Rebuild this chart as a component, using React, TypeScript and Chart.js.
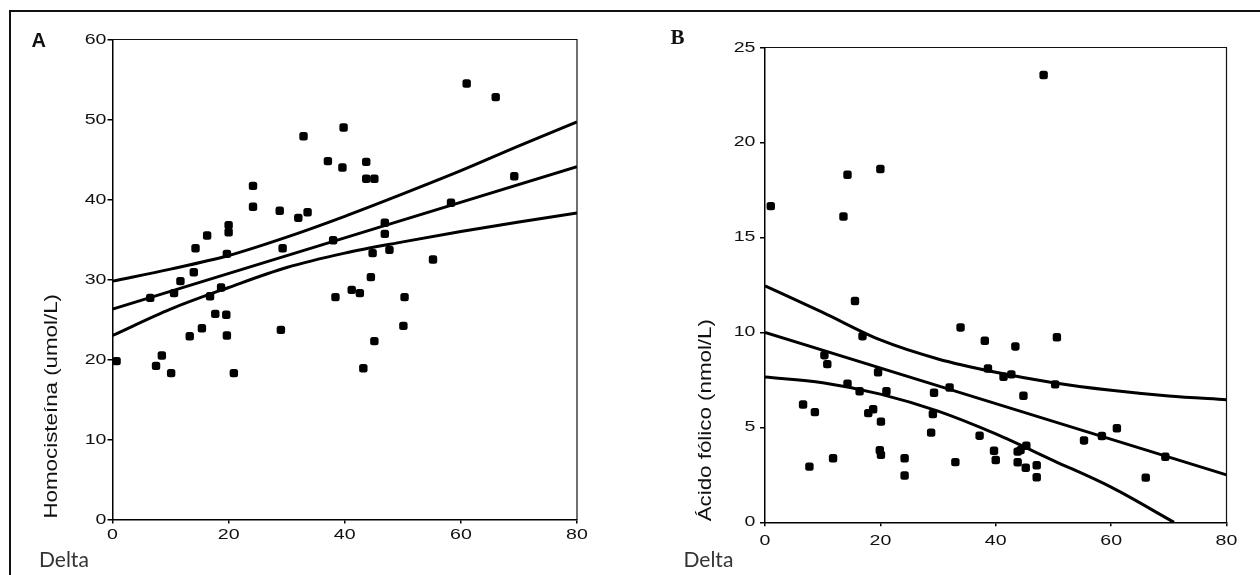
import React, { useEffect, useRef } from 'react';
import { Chart, registerables } from 'chart.js';

Chart.register(...registerables);

// ---------------- data ----------------
const deltaA = [0.7, 7.5, 8.5, 10.1, 13.3, 15.4, 17.7, 19.6, 19.7, 20.9, 29.0, 6.5, 10.6, 11.7, 16.8, 18.7, 32.9, 24.2, 24.2, 28.8, 32.0, 33.6, 16.3, 20.0, 20.0, 14.3, 19.7, 29.3, 14.0, 39.8, 61.0, 66.0, 37.1, 39.6, 43.7, 43.7, 45.1, 69.2, 58.3, 38.0, 46.9, 46.9, 44.8, 47.7, 55.2, 44.5, 38.4, 41.2, 42.6, 50.3, 50.1, 45.1, 43.2];
const homocisteinaA = [19.8, 19.2, 20.5, 18.3, 22.9, 23.9, 25.7, 25.6, 23.0, 18.3, 23.7, 27.7, 28.3, 29.8, 27.9, 29.0, 47.9, 41.7, 39.1, 38.6, 37.7, 38.4, 35.5, 36.8, 35.9, 33.9, 33.2, 33.9, 30.9, 49.0, 54.5, 52.8, 44.8, 44.0, 44.7, 42.6, 42.6, 42.9, 39.6, 34.9, 37.1, 35.7, 33.3, 33.7, 32.5, 30.3, 27.8, 28.7, 28.3, 27.8, 24.2, 22.3, 18.9];
const fitXA = [0, 80];
const fitA = [26.3, 44.1];
const bandXA = [0, 10, 20, 30, 40, 50, 60, 70, 80];
const upperA = [29.8, 31.3, 33.0, 35.3, 37.9, 40.7, 43.6, 46.7, 49.7];
const lowerA = [23.0, 26.3, 29.0, 31.5, 33.3, 34.7, 36.0, 37.2, 38.3];

const deltaB = [1.0, 14.3, 20.0, 13.6, 48.3, 15.6, 16.9, 10.3, 10.8, 19.6, 14.3, 16.4, 21.05, 6.6, 8.65, 17.9, 18.75, 20.1, 19.9, 20.1, 7.7, 11.8, 24.2, 24.2, 29.3, 29.1, 28.8, 32.0, 33.9, 38.1, 43.4, 50.6, 38.65, 41.35, 42.7, 50.3, 44.8, 33.0, 37.2, 39.7, 40.0, 43.8, 43.8, 45.3, 44.3, 45.2, 47.1, 47.1, 55.3, 58.4, 61.0, 69.4, 66.0];
const acidoFolicoB = [16.65, 18.3, 18.6, 16.1, 23.55, 11.65, 9.8, 8.8, 8.33, 7.9, 7.3, 6.9, 6.9, 6.2, 5.8, 5.75, 5.95, 5.3, 3.8, 3.55, 2.93, 3.37, 3.37, 2.46, 6.82, 5.7, 4.72, 7.1, 10.26, 9.56, 9.26, 9.74, 8.1, 7.66, 7.79, 7.26, 6.66, 3.17, 4.56, 3.77, 3.28, 3.72, 3.16, 4.03, 3.8, 2.87, 3.0, 2.37, 4.31, 4.54, 4.95, 3.45, 2.35];
const fitXB = [0, 80];
const fitB = [10.0, 2.5];
const upperXB = [0, 10, 20, 30, 40, 50, 60, 70, 80];
const upperB = [12.45, 11.05, 9.6, 8.6, 7.9, 7.35, 6.95, 6.65, 6.45];
const lowerXB = [0, 10, 20, 30, 40, 50, 60, 70.9];
const lowerB = [7.65, 7.35, 6.75, 5.85, 4.65, 3.25, 1.85, 0];

const xTicks = [0, 20, 40, 60, 80];
const yTicksA = [0, 10, 20, 30, 40, 50, 60];
const yTicksB = [0, 5, 10, 15, 20, 25];

const titleA = 'Homocisteína (umol/L)';
const titleB = 'Ácido fólico (nmol/L)';
const xLabel = 'Delta';

// ---------------- styling ----------------
const SANS = "'Liberation Sans', Arial, Helvetica, sans-serif";
const TICK_STRETCH = 1.35;
const TITLE_STRETCH = 1.24;
const CANVAS_W = 630;
const CANVAS_H = 575;
const X_AXIS_H = 30;

const pts = (xs: number[], ys: number[]) => xs.map((x, i) => ({ x, y: ys[i] }));

function patchScale(scale: any) {
  if (scale.__patched) return;
  scale.__patched = true;
  scale.drawLabels = function (chartArea: any) {
    const opts = this.options;
    if (!opts.ticks.display) return;
    const ctx: CanvasRenderingContext2D = this.ctx;
    const items = this.getLabelItems(chartArea);
    for (const item of items) {
      const o = item.options;
      ctx.save();
      ctx.translate(o.translation[0], o.translation[1]);
      if (o.rotation) ctx.rotate(o.rotation);
      ctx.scale(TICK_STRETCH, 1);
      ctx.font = item.font.string;
      ctx.fillStyle = o.color;
      ctx.textAlign = o.textAlign;
      ctx.textBaseline = o.textBaseline;
      ctx.fillText(String(item.label), 0, item.textOffset);
      ctx.restore();
    }
  };
  scale.drawTitle = function () {
    const t = this.options.title;
    if (!t.display) return;
    const ctx: CanvasRenderingContext2D = this.ctx;
    const size = t.font.size;
    const pad = typeof t.padding === 'number' ? t.padding : t.padding.top;
    const x = this.left + (size * 1.2) / 2 + pad;
    const y = this.bottom - 1;
    ctx.save();
    ctx.translate(x, y);
    ctx.rotate(-Math.PI / 2);
    ctx.scale(TITLE_STRETCH, 1);
    ctx.font = `${size}px ${t.font.family}`;
    ctx.fillStyle = t.color;
    ctx.textAlign = 'left';
    ctx.textBaseline = 'middle';
    ctx.fillText(String(t.text), 0, 0);
    ctx.restore();
  };
}

const stretchPlugin = {
  id: 'stretchText',
  beforeDraw(chart: any) {
    Object.keys(chart.scales).forEach((k) => patchScale(chart.scales[k]));
  },
};

const framePlugin = {
  id: 'plotFrame',
  afterDraw(chart: any) {
    const { left, top, right, bottom } = chart.chartArea;
    const ctx = chart.ctx;
    ctx.save();
    ctx.strokeStyle = '#111';
    ctx.lineWidth = 1.2;
    ctx.beginPath();
    ctx.moveTo(left, top);
    ctx.lineTo(right, top);
    ctx.lineTo(right, bottom);
    ctx.stroke();
    ctx.restore();
  },
};

interface PanelCfg {
  scatter: { x: number; y: number }[];
  lines: { x: number; y: number }[][];
  yTicks: number[];
  title: string;
  area: { l: number; t: number; r: number; b: number };
  titlePad: number;
  yTickPad: number;
  xTickPad: number;
}

function buildConfig(p: PanelCfg): any {
  const lineDs = p.lines.map((d) => ({
    data: d,
    showLine: true,
    pointRadius: 0,
    borderColor: '#000',
    borderWidth: 3,
    cubicInterpolationMode: 'monotone',
    fill: false,
  }));
  const tickFont = { family: SANS, size: 14.5 };
  return {
    type: 'scatter',
    data: {
      datasets: [
        {
          data: p.scatter,
          pointStyle: 'rectRounded',
          pointRadius: 4.9,
          pointBackgroundColor: '#000',
          pointBorderColor: '#000',
          pointBorderWidth: 0,
          showLine: false,
        },
        ...lineDs,
      ],
    },
    options: {
      responsive: false,
      animation: false,
      events: [],
      layout: {
        padding: {
          left: 0,
          top: p.area.t,
          right: CANVAS_W - p.area.r,
          bottom: CANVAS_H - p.area.b - X_AXIS_H,
        },
      },
      plugins: { legend: { display: false }, tooltip: { enabled: false } },
      scales: {
        x: {
          type: 'linear',
          min: xTicks[0],
          max: xTicks[xTicks.length - 1],
          afterBuildTicks: (s: any) => {
            s.ticks = xTicks.map((v) => ({ value: v }));
          },
          ticks: { font: tickFont, color: '#111', padding: p.xTickPad },
          grid: { display: true, drawOnChartArea: false, drawTicks: true, tickLength: 4, color: '#000', lineWidth: 1.5 },
          border: { display: true, color: '#000', width: 1.5 },
          afterFit: (s: any) => {
            s.height = X_AXIS_H;
          },
        },
        y: {
          type: 'linear',
          min: p.yTicks[0],
          max: p.yTicks[p.yTicks.length - 1],
          afterBuildTicks: (s: any) => {
            s.ticks = p.yTicks.map((v) => ({ value: v }));
          },
          ticks: { font: tickFont, color: '#111', padding: p.yTickPad },
          grid: { display: true, drawOnChartArea: false, drawTicks: true, tickLength: 5, color: '#000', lineWidth: 1.5 },
          border: { display: true, color: '#000', width: 1.5 },
          title: {
            display: true,
            text: p.title,
            color: '#111',
            font: { family: SANS, size: 18 },
            padding: p.titlePad,
          },
          afterFit: (s: any) => {
            s.width = p.area.l;
          },
        },
      },
    },
    plugins: [stretchPlugin, framePlugin],
  };
}

const panelA: PanelCfg = {
  scatter: pts(deltaA, homocisteinaA),
  lines: [pts(bandXA, upperA), pts(fitXA, fitA), pts(bandXA, lowerA)],
  yTicks: yTicksA,
  title: titleA,
  area: { l: 112.5, t: 39.5, r: 577, b: 519.5 },
  titlePad: 41,
  yTickPad: 1,
  xTickPad: 3,
};

const panelB: PanelCfg = {
  scatter: pts(deltaB, acidoFolicoB),
  lines: [pts(upperXB, upperB), pts(fitXB, fitB), pts(lowerXB, lowerB)],
  yTicks: yTicksB,
  title: titleB,
  area: { l: 135, t: 47.5, r: 596.5, b: 522.3 },
  titlePad: 65,
  yTickPad: 4.5,
  xTickPad: 6,
};

function Panel({ cfg, left }: { cfg: PanelCfg; left: number }) {
  const ref = useRef<HTMLCanvasElement | null>(null);
  useEffect(() => {
    if (!ref.current) return;
    const chart = new Chart(ref.current, buildConfig(cfg));
    return () => chart.destroy();
  }, [cfg]);
  return (
    <canvas
      ref={ref}
      width={CANVAS_W}
      height={CANVAS_H}
      style={{ position: 'absolute', left, top: 0, width: CANVAS_W, height: CANVAS_H }}
    />
  );
}

const labelBase: React.CSSProperties = { position: 'absolute', lineHeight: 1, whiteSpace: 'nowrap', margin: 0 };

export default function App() {
  return (
    <div style={{ position: 'fixed', left: 0, top: 0, width: 1260, height: 575, background: '#fff', overflow: 'hidden' }}>
      <div style={{ position: 'absolute', left: 9, top: 10, width: 1260, height: 570, borderTop: '2px solid #111', borderLeft: '2px solid #111' }} />
      <Panel cfg={panelA} left={0} />
      <Panel cfg={panelB} left={630} />
      <div style={{ ...labelBase, left: 31.5, top: 30.4, fontFamily: SANS, fontWeight: 700, fontSize: 20, color: '#111' }}>A</div>
      <div style={{ ...labelBase, left: 670.5, top: 26.7, fontFamily: "'Liberation Serif', 'Times New Roman', serif", fontWeight: 700, fontSize: 21, color: '#111' }}>B</div>
      <div style={{ ...labelBase, left: 39, top: 548, fontFamily: 'Lato, sans-serif', fontSize: 21, color: '#333' }}>{xLabel}</div>
      <div style={{ ...labelBase, left: 683.5, top: 548, fontFamily: 'Lato, sans-serif', fontSize: 21, color: '#333' }}>{xLabel}</div>
    </div>
  );
}
